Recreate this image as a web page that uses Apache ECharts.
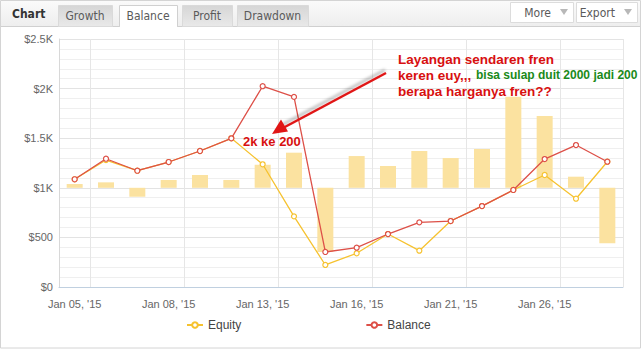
<!DOCTYPE html>
<html>
<head>
<meta charset="utf-8">
<script src="https://cdn.jsdelivr.net/npm/echarts@6/dist/echarts.min.js"></script>
<style>
html,body{margin:0;padding:0;background:#fff;}
#c{width:643px;height:349px;}
</style>
</head>
<body>
<div id="c"></div>
<script>
var categories = ["Jan 05, '15","Jan 06, '15","Jan 07, '15","Jan 08, '15","Jan 09, '15","Jan 12, '15","Jan 13, '15","Jan 14, '15","Jan 15, '15","Jan 16, '15","Jan 19, '15","Jan 20, '15","Jan 21, '15","Jan 22, '15","Jan 23, '15","Jan 26, '15","Jan 27, '15","Jan 28, '15"];
var balance = [1086,1293,1172,1260,1371,1499,2024,1916,353,396,534,652,665,816,978,1290,1431,1263];
var equity  = [1086,1280,1172,1260,1371,1499,1237,712,222,340,534,366,665,816,978,1129,890,1263];
var profit  = [38,55,-90,79,129,79,233,354,-647,320,220,371,300,391,918,724,112,-560];
var yTicks = {0:'$0',500:'$500',1000:'$1K',1500:'$1.5K',2000:'$2K',2500:'$2.5K'};
var tabs = ['Growth','Balance','Profit','Drawdown'];

var FONT = "'Liberation Sans', Arial, sans-serif";
var TABFONT = "'DejaVu Sans Condensed', 'Liberation Sans', sans-serif";

var chart = echarts.init(document.getElementById('c'), null, {renderer:'svg'});

function tabRect(x, w, active){
  return {type:'rect', shape:{x:x+0.5,y:5.5,width:w,height:21},
    style: active ? {fill:'#ffffff',stroke:'#d0d0d0',lineWidth:1}
      : {fill:new echarts.graphic.LinearGradient(0,0,0,1,[{offset:0,color:'#d6d6d6'},{offset:1,color:'#e9e9e9'}]),stroke:'#dadada',lineWidth:1}};
}
var tabX = [58,119,182,237], tabW = [54,58,50,71];
var graphics = [
  {type:'rect', shape:{x:0.5,y:0.5,width:640,height:347.5}, style:{fill:'none',stroke:'#d4d4d4',lineWidth:1}, z:-10},
  {type:'rect', shape:{x:1,y:1,width:639,height:25.5}, style:{fill:new echarts.graphic.LinearGradient(0,0,0,1,[{offset:0,color:'#fafafa'},{offset:1,color:'#eeeeee'}])}, z:-9},
  {type:'line', shape:{x1:1,y1:26.5,x2:640,y2:26.5}, style:{stroke:'#d0d0d0',lineWidth:1}, z:-8},
  {type:'text', left:12, top:8, style:{text:'Chart', font:"bold 12px "+TABFONT, fill:'#333'}}
];
for (var i=0;i<tabs.length;i++){
  graphics.push(tabRect(tabX[i], tabW[i], i===1));
  graphics.push({type:'text', x:tabX[i]+tabW[i]/2, y:16, style:{text:tabs[i], font:"12px "+TABFONT, fill:'#5a5a5a', align:'center', verticalAlign:'middle'}});
}
graphics.push({type:'rect', shape:{x:120,y:25,width:57,height:3}, style:{fill:'#fff'}});
[['More',510,63],['Export',576,61]].forEach(function(b){
  graphics.push({type:'rect', shape:{x:b[1]+0.5,y:2.5,width:b[2],height:20}, style:{fill:'#fff',stroke:'#dcdcdc',lineWidth:1}});
  graphics.push({type:'text', x:b[1]+b[2]-22, y:13, style:{text:b[0], font:"12px "+TABFONT, fill:'#5a5a5a', align:'right', verticalAlign:'middle'}});
  var tx=b[1]+b[2]-13;
  graphics.push({type:'polygon', shape:{points:[[tx,9],[tx+8,9],[tx+4,15]]}, style:{fill:'#b8b8b8'}});
});
graphics.push({type:'line', shape:{x1:386,y1:73,x2:283,y2:128}, style:{stroke:'#e01515',lineWidth:2.5,shadowBlur:3,shadowOffsetX:-1,shadowOffsetY:-3,shadowColor:'rgba(0,0,0,0.3)'}, z:50});
graphics.push({type:'polygon', shape:{points:[[272,134],[288,131.5],[281,119.5]]}, style:{fill:'#e01515'}, z:51});
graphics.push({type:'text', left:243, top:135, style:{text:'2k ke 200', font:"bold 13px "+FONT, fill:'#d81010'}, z:52});
graphics.push({type:'text', left:398, top:52, style:{text:'Layangan sendaren fren', font:"bold 13.5px "+FONT, fill:'#d81010'}, z:52});
graphics.push({type:'text', left:398, top:68, style:{text:'keren euy,,,', font:"bold 13.5px "+FONT, fill:'#d81010'}, z:52});
graphics.push({type:'text', left:476, top:69, style:{text:'bisa sulap duit 2000 jadi 200', font:"bold 12px "+FONT, fill:'#1a8a1a'}, z:52});
graphics.push({type:'text', left:398, top:84, style:{text:'berapa harganya fren??', font:"bold 13.5px "+FONT, fill:'#d81010'}, z:52});

var option = {
  animation:false,
  backgroundColor:'transparent',
  grid:{left:59,right:20,top:39,bottom:62},
  legend:{
    data:['Equity','Balance'], left:181, top:314, itemGap:124, itemWidth:16, itemHeight:7,
    textStyle:{fontFamily:FONT,fontSize:12,color:'#444'}
  },
  xAxis:{
    type:'category', data:categories, boundaryGap:true,
    axisLine:{show:true,lineStyle:{color:'#c0d0e0'}},
    axisTick:{show:false},
    axisLabel:{interval:2, margin:11, color:'#666', fontFamily:FONT, fontSize:11},
    splitLine:{show:true, interval:function(idx){return idx%3===1;}, lineStyle:{color:'#e6e6e6'}}
  },
  yAxis:[{
    type:'value', min:0, max:2500, interval:500,
    axisLine:{show:true,lineStyle:{color:'#d8d8d8'}},
    axisTick:{show:false},
    axisLabel:{margin:6, color:'#666', fontFamily:FONT, fontSize:11, formatter:function(v){return yTicks[v];}},
    splitLine:{show:true,lineStyle:{color:'#e3e3e3'}},
    minorTick:{show:false, splitNumber:5},
    minorSplitLine:{show:true,lineStyle:{color:'#efefef'}}
  },{
    type:'value', min:-1000, max:1500, show:false, splitLine:{show:false}
  }],
  series:[
    {name:'Profit', type:'bar', yAxisIndex:1, data:profit, barWidth:16, itemStyle:{color:'#fbe2a0'}, z:1},
    {name:'Equity', type:'line', data:equity, color:'#f6c22f', symbol:'circle', symbolSize:5, showAllSymbol:true,
      lineStyle:{width:1.3,color:'#f6c22f'}, itemStyle:{color:'#fff',borderColor:'#f6c22f',borderWidth:1.2}, z:3},
    {name:'Balance', type:'line', data:balance, color:'#dd5048', symbol:'circle', symbolSize:5, showAllSymbol:true,
      lineStyle:{width:1.3,color:'#dd5048'}, itemStyle:{color:'#fff',borderColor:'#dd5048',borderWidth:1.2}, z:4}
  ],
  graphic:graphics
};
chart.setOption(option);
</script>
</body>
</html>
